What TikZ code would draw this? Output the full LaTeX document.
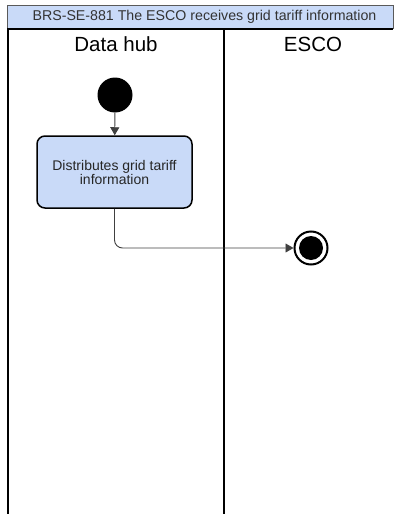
\documentclass[tikz,border=0pt]{standalone}
\usepackage{fontspec}
\setmainfont{Liberation Sans}
\usetikzlibrary{arrows.meta}
\definecolor{laneblue}{HTML}{C9DAF8}
\definecolor{bordergray}{HTML}{5A5A5A}
\tikzset{
  x=1pt, y=-1pt,
  lanefont/.style={font=\fontsize{20.5}{22}\selectfont},
  lanerule/.style={line width=2pt, draw=black},
  actbox/.style={draw=black, line width=1.5pt, fill=laneblue, rounded corners=8pt,
    minimum width=155pt, minimum height=72pt, align=center,
    font=\fontsize{14}{14}\selectfont, text=black!85},
  flow/.style={draw=black!75, line width=0.9pt, -{Triangle[length=8pt,width=9pt]}},
}
\begin{document}
\begin{tikzpicture}
\useasboundingbox (0,0) rectangle (395,514);
% title bar
\path[fill=laneblue] (7,5) rectangle (393,29);
\draw[bordergray, line width=0.8pt] (7,29) -- (7,5) -- (393,5) -- (393,29);
\node[font=\fontsize{14.2}{14}\selectfont, text=black!80] (title) at (204.5,17) {BRS-SE-881 The ESCO receives grid tariff information};
% lanes
\draw[lanerule] (7,29) -- (393,29);
\draw[lanerule] (8,29) -- (8,514);
\draw[lanerule] (224,29) -- (224,514);
\node[lanefont] (hub) at (116,44) {Data hub};
\node[lanefont] (esco) at (313,44) {ESCO};
% start
\node[circle, fill=black, minimum size=35pt, inner sep=0pt] (start) at (115,95) {};
% activity
\node[actbox] (act) at (114.5,172) {Distributes grid tariff\\information};
% end
\node[circle, draw=black, line width=2pt, fill=white, minimum size=33pt, inner sep=0pt] (endc) at (311,248) {};
\node[circle, fill=black, minimum size=24pt, inner sep=0pt] (endin) at (311,248) {};
% flows
\draw[flow] (start) -- (act);
\draw[flow, rounded corners=8pt] (act.south) |- (endc.west);
\end{tikzpicture}
\end{document}
